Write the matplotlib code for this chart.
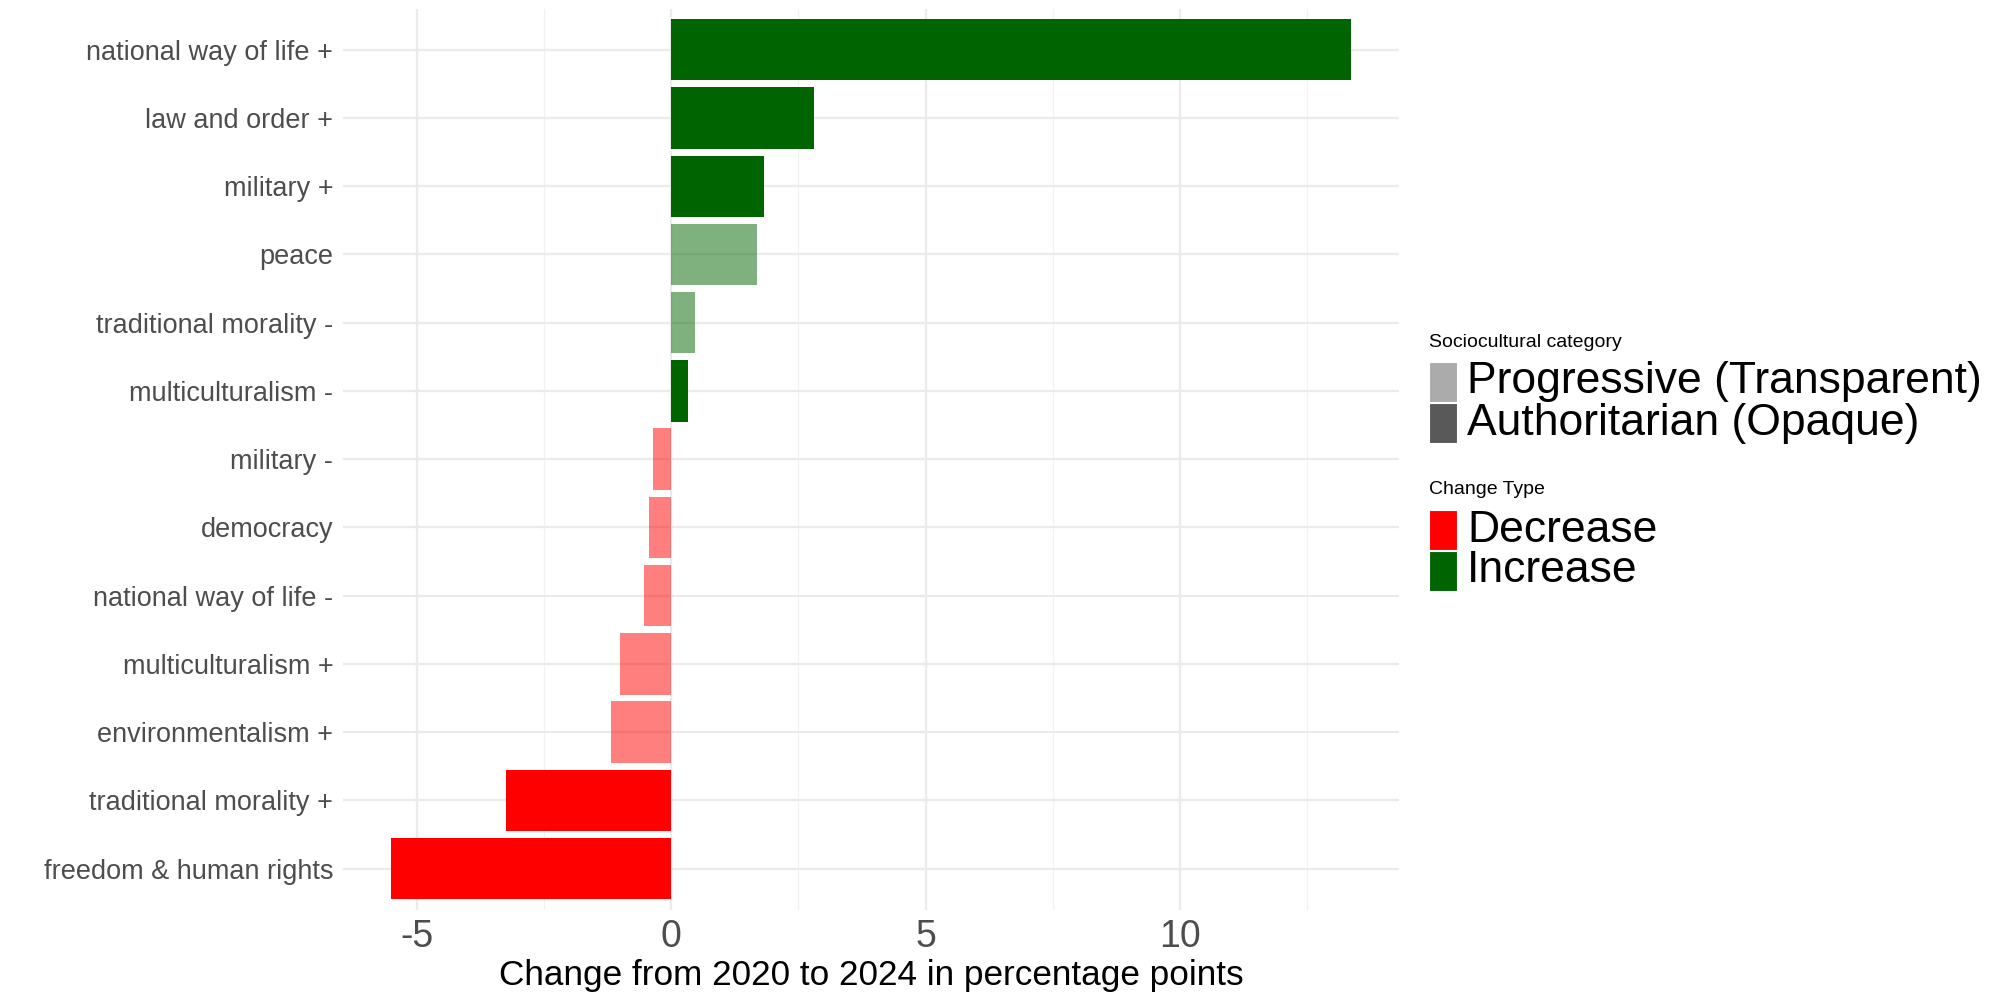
import matplotlib
matplotlib.use("Agg")
import matplotlib.pyplot as plt
from matplotlib.patches import Rectangle

plt.rcParams['font.family'] = ['Liberation Sans', 'DejaVu Sans']

categories = ["national way of life +", "law and order +", "military +", "peace",
              "traditional morality -", "multiculturalism -", "military -", "democracy",
              "national way of life -", "multiculturalism +", "environmentalism +",
              "traditional morality +", "freedom & human rights"]
values = [13.36, 2.81, 1.82, 1.69, 0.47, 0.32, -0.36, -0.43, -0.54, -1.01, -1.18, -3.24, -5.51]
progressive = [False, False, False, True, True, False, True, True, True, True, True, False, False]

GREEN = "#006400"
RED = "#FF0000"

fig = plt.figure(figsize=(20, 10), dpi=100)
ax = fig.add_axes([0.1715, 0.0905, 0.528, 0.9007])

n = len(categories)
ys = list(range(n - 1, -1, -1))
for y, v, p in zip(ys, values, progressive):
    col = GREEN if v > 0 else RED
    ax.barh(y, v, height=0.9, color=col, alpha=0.5 if p else 1.0, linewidth=0, zorder=3)

ax.set_yticks(ys)
ax.set_yticklabels(categories, fontsize=19.5, color="#4D4D4D")
ax.set_xticks([-5, 0, 5, 10])
ax.set_xticklabels(["-5", "0", "5", "10"], fontsize=27, color="#4D4D4D")
ax.set_xticks([-2.5, 2.5, 7.5, 12.5], minor=True)
ax.set_xlim(-6.45, 14.30)
ax.set_ylim(-0.6, n - 1 + 0.6)
ax.tick_params(axis='both', which='both', length=0)
ax.tick_params(axis='y', pad=7)
ax.tick_params(axis='x', pad=6.5)
ax.grid(True, which='major', color="#EBEBEB", linewidth=1.6, zorder=0)
ax.grid(True, which='minor', axis='x', color="#F2F2F2", linewidth=0.9, zorder=0)
for s in ax.spines.values():
    s.set_visible(False)
ax.set_xlabel("Change from 2020 to 2024 in percentage points", fontsize=25.3, color="black", labelpad=3)

# legend
W, H = 2000.0, 1000.0
def fx(x): return x / W
def fy(y): return 1 - y / H
key_x, key_w, key_h = 1429, 28, 40
text_x = 1467
fig.text(fx(key_x), fy(342), "Sociocultural category", fontsize=14, va='center', ha='left')
entries1 = [("Progressive (Transparent)", "#ABABAB", 382), ("Authoritarian (Opaque)", "#595959", 423)]
fig.text(fx(key_x), fy(489), "Change Type", fontsize=14, va='center', ha='left')
entries2 = [("Decrease", RED, 530), ("Increase", GREEN, 571)]
for label, col, yc in entries1 + entries2:
    fig.patches.append(Rectangle((fx(key_x), fy(yc + key_h / 2)), key_w / W, key_h / H,
                                 transform=fig.transFigure, facecolor=col, edgecolor='white', linewidth=0.8))
    fig.text(fx(text_x), fy(yc), label, fontsize=32, va='center', ha='left')

fig.savefig("out.png", dpi=100, facecolor="white")
